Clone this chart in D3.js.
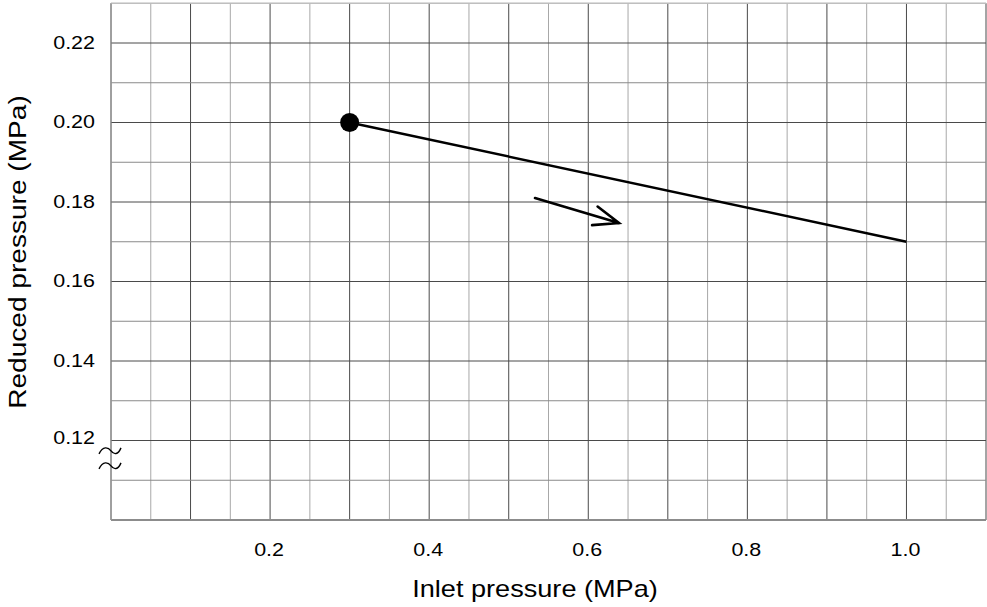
<!DOCTYPE html>
<html>
<head>
<meta charset="utf-8">
<script src="https://cdn.jsdelivr.net/npm/d3@7/dist/d3.min.js"></script>
<style>
  html, body { margin: 0; padding: 0; background: #fff; }
  svg { display: block; }
  text { font-family: "Liberation Sans", Arial, sans-serif; fill: #000; }
</style>
</head>
<body>
<svg id="chart" width="987" height="607"></svg>
<script>
// ---- data ----
const lineX = [0.3, 1.0];
const lineY = [0.20, 0.17];
const markerX = [0.3];
const markerY = [0.20];
const arrowX = [0.533, 0.6386];
const arrowY = [0.181, 0.1747];
const xTicks = [0.2, 0.4, 0.6, 0.8, 1.0];
const xTickLabels = ["0.2", "0.4", "0.6", "0.8", "1.0"];
const yTicks = [0.12, 0.14, 0.16, 0.18, 0.20, 0.22];
const yTickLabels = ["0.12", "0.14", "0.16", "0.18", "0.20", "0.22"];
const xDomain = [0, 1.1];
const yDomain = [0.10, 0.23];
const breakValue = 0.1155;
const xTitle = "Inlet pressure (MPa)";
const yTitle = "Reduced pressure (MPa)";

// ---- layout ----
const svg = d3.select("#chart");
const x = d3.scaleLinear().domain(xDomain).range([111, 986]);
const y = d3.scaleLinear().domain(yDomain).range([520, 3.25]);

const r4 = v => Math.round(v * 10000) / 10000;

// grid
const gx = d3.range(0, 22.5).map(i => r4(i * 0.05));
const gy = d3.range(0, 13.5).map(i => r4(0.10 + i * 0.01));
const grid = svg.append("g");
grid.selectAll("line.vx").data(gx).join("line")
  .attr("x1", d => x(d)).attr("x2", d => x(d))
  .attr("y1", y(yDomain[1])).attr("y2", y(yDomain[0]))
  .attr("stroke", d => (Math.abs(Math.round(d * 10) - d * 10) < 1e-6) ? "#4a4a4a" : "#a8a8a8")
  .attr("stroke-width", 1);
grid.selectAll("line.hy").data(gy).join("line")
  .attr("x1", x(xDomain[0])).attr("x2", x(xDomain[1]))
  .attr("y1", d => y(d)).attr("y2", d => y(d))
  .attr("stroke", d => (Math.abs(Math.round(d * 50) - d * 50) < 1e-6) ? "#4a4a4a" : "#8a8a8a")
  .attr("stroke-width", 1);

// frame
svg.append("line").attr("x1", x(0)).attr("x2", x(1.1)).attr("y1", y(0.10)).attr("y2", y(0.10))
  .attr("stroke", "#8c8c8c").attr("stroke-width", 2);
svg.append("line").attr("x1", x(0)).attr("x2", x(1.1)).attr("y1", y(0.23)).attr("y2", y(0.23))
  .attr("stroke", "#c8c8c8").attr("stroke-width", 1);
svg.append("line").attr("x1", x(0)).attr("x2", x(0)).attr("y1", y(0.23)).attr("y2", y(0.10))
  .attr("stroke", "#9a9a9a").attr("stroke-width", 1);

// axis break symbol
const by = y(breakValue);
const bx = x(0);
[-7.5, 7.5].forEach(off => {
  const yy = by + off;
  svg.append("path")
    .attr("d", `M${bx-12},${yy+3} C${bx-8},${yy-5} ${bx-3},${yy-4} ${bx},${yy} S${bx+7},${yy+4} ${bx+10},${yy-3}`)
    .attr("fill", "none").attr("stroke", "#000").attr("stroke-width", 1.4);
});

// tick labels
const tickFs = 19, sx = 1.13;
svg.append("g").selectAll("text").data(xTicks).join("text")
  .attr("transform", d => `translate(${x(d) - 1},556) scale(${sx},1)`)
  .attr("text-anchor", "middle")
  .attr("font-size", tickFs)
  .text((d, i) => xTickLabels[i]);
svg.append("g").selectAll("text").data(yTicks).join("text")
  .attr("transform", d => `translate(95,${y(d) + (d === 0.12 ? 3.5 : 5.5)}) scale(${sx},1)`)
  .attr("text-anchor", "end")
  .attr("font-size", tickFs)
  .text((d, i) => yTickLabels[i]);

// axis titles
svg.append("text")
  .attr("transform", `translate(535,597) scale(1.13,1)`)
  .attr("text-anchor", "middle").attr("font-size", 24)
  .text(xTitle);
svg.append("text")
  .attr("transform", `translate(25.5,252) rotate(-90) scale(1.17,1)`)
  .attr("text-anchor", "middle").attr("font-size", 24)
  .text(yTitle);

// data line
const pts = lineX.map((v, i) => [x(v), y(lineY[i])]);
svg.append("path")
  .attr("d", d3.line()(pts))
  .attr("fill", "none").attr("stroke", "#000").attr("stroke-width", 2.5);

// marker
svg.selectAll("circle.m").data(markerX).join("circle")
  .attr("cx", d => x(d)).attr("cy", (d, i) => y(markerY[i]))
  .attr("r", 9.5).attr("fill", "#000");

// arrow
const a0 = [x(arrowX[0]), y(arrowY[0])];
const a1 = [x(arrowX[1]), y(arrowY[1])];
const ang = Math.atan2(a1[1] - a0[1], a1[0] - a0[0]);
const hl = 27, ha = 21 * Math.PI / 180;
const b1 = [a1[0] - hl * Math.cos(ang - ha), a1[1] - hl * Math.sin(ang - ha)];
const b2 = [a1[0] - hl * Math.cos(ang + ha), a1[1] - hl * Math.sin(ang + ha)];
svg.append("path")
  .attr("d", d3.line()([a0, a1]) + d3.line()([b1, a1, b2]))
  .attr("fill", "none").attr("stroke", "#000").attr("stroke-width", 2.6)
  .attr("stroke-linejoin", "miter").attr("stroke-linecap", "round");
</script>
</body>
</html>
